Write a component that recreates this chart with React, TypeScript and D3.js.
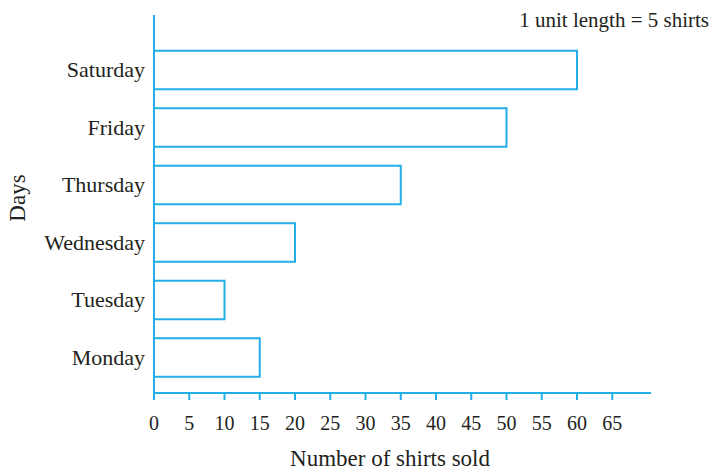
import { useEffect, useRef } from "react"
import * as d3 from "d3"

const days = ["Saturday", "Friday", "Thursday", "Wednesday", "Tuesday", "Monday"]
const shirtsSold = [60, 50, 35, 20, 10, 15]
const xTicks = [0, 5, 10, 15, 20, 25, 30, 35, 40, 45, 50, 55, 60, 65]

const BLUE = "#22aee6"
const INK = "#231f20"
const FONT = "'Liberation Serif', 'Times New Roman', serif"

export default function App() {
  const svgRef = useRef<SVGSVGElement>(null)
  const width = 713
  const height = 472

  useEffect(() => {
    if (!svgRef.current) return

    const svg = d3.select(svgRef.current)
    svg.selectAll("*").remove()

    const x0 = 154
    const axisY = 393

    const xScale = d3.scaleLinear()
      .domain([0, 60])
      .range([x0, 577])

    const yScale = d3.scaleBand()
      .domain(days)
      .range([41.25, 386.25])
      .paddingInner(0.33)
      .paddingOuter(0.165)

    // Bars
    svg.append("g").selectAll("rect")
      .data(days.map((d, i) => ({ day: d, value: shirtsSold[i] })))
      .enter()
      .append("rect")
      .attr("x", xScale(0))
      .attr("y", d => yScale(d.day) as number)
      .attr("width", d => xScale(d.value) - xScale(0))
      .attr("height", yScale.bandwidth())
      .attr("fill", "none")
      .attr("stroke", BLUE)
      .attr("stroke-width", 2)

    // y axis line
    svg.append("line")
      .attr("x1", x0).attr("x2", x0)
      .attr("y1", 15).attr("y2", axisY)
      .attr("stroke", BLUE).attr("stroke-width", 2)

    // x axis line
    svg.append("line")
      .attr("x1", x0).attr("x2", 651)
      .attr("y1", axisY).attr("y2", axisY)
      .attr("stroke", BLUE).attr("stroke-width", 2)

    // x ticks
    const ticks = svg.append("g").selectAll("g")
      .data(xTicks)
      .enter()
      .append("g")
      .attr("transform", d => `translate(${xScale(d)}, ${axisY})`)

    ticks.append("line")
      .attr("y1", 0).attr("y2", 7)
      .attr("stroke", BLUE).attr("stroke-width", 2)

    ticks.append("text")
      .attr("y", 37)
      .attr("text-anchor", "middle")
      .attr("font-family", FONT)
      .attr("font-size", 20)
      .attr("fill", INK)
      .text(d => d)

    // day labels
    svg.append("g").selectAll("text")
      .data(days)
      .enter()
      .append("text")
      .attr("x", 145)
      .attr("y", d => (yScale(d) as number) + yScale.bandwidth() / 2 + 7)
      .attr("text-anchor", "end")
      .attr("font-family", FONT)
      .attr("font-size", 22)
      .attr("fill", INK)
      .text(d => d)

    // axis titles
    svg.append("text")
      .attr("x", 390)
      .attr("y", 466)
      .attr("text-anchor", "middle")
      .attr("font-family", FONT)
      .attr("font-size", 23)
      .attr("fill", INK)
      .text("Number of shirts sold")

    svg.append("text")
      .attr("transform", "translate(25, 198) rotate(-90)")
      .attr("text-anchor", "middle")
      .attr("font-family", FONT)
      .attr("font-size", 23)
      .attr("fill", INK)
      .text("Days")

    // scale note
    svg.append("text")
      .attr("x", 709)
      .attr("y", 27)
      .attr("text-anchor", "end")
      .attr("font-family", FONT)
      .attr("font-size", 21)
      .attr("fill", INK)
      .text("1 unit length = 5 shirts")
  }, [])

  return (
    <div style={{ position: "absolute", left: 0, top: 0, width, height, background: "#fff" }}>
      <svg
        ref={svgRef}
        width={width}
        height={height}
        viewBox={`0 0 ${width} ${height}`}
        xmlns="http://www.w3.org/2000/svg"
        style={{ display: "block" }}
      ></svg>
    </div>
  )
}
